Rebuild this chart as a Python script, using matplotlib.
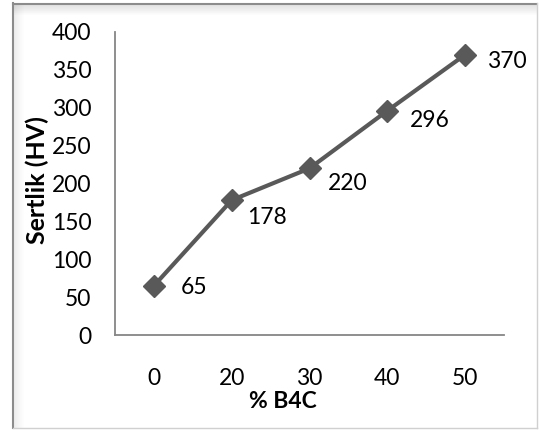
import matplotlib
matplotlib.use("Agg")
import matplotlib.pyplot as plt
from matplotlib.lines import Line2D

plt.rcParams["font.family"] = ["Lato", "DejaVu Sans"]

# B4C oranı (%) ve ölçülen sertlik değerleri
b4c_oran = ["0", "20", "30", "40", "50"]
sertlik = [65, 178, 220, 296, 370]
y_ticks = [0, 50, 100, 150, 200, 250, 300, 350, 400]

# etiketlerin işaretçiye göre kaydırması (piksel)
etiket_kaydir = [(27, -2), (15, -17), (18, -15), (23, -10), (22, -7)]

W, H, DPI = 539, 430, 100
FS = 16.5
fig = plt.figure(figsize=(W / DPI, H / DPI), dpi=DPI)
fig.patch.set_facecolor("white")


def fx(px):
    return px / W


def fy(py):
    return 1 - py / H


# çerçeve ve gölge
for i in range(10):
    a = 0.10 * (1 - i / 10)
    fig.add_artist(Line2D([fx(14), fx(536)], [fy(5 + i), fy(5 + i)],
                          color="black", alpha=a, lw=0.8))
    fig.add_artist(Line2D([fx(14 + i), fx(14 + i)], [fy(4), fy(427)],
                          color="black", alpha=a * 0.6, lw=0.8))
fig.add_artist(Line2D([fx(13), fx(537)], [fy(3.5), fy(3.5)], color="#8c8c8c", lw=1.5))
fig.add_artist(Line2D([fx(13), fx(13)], [fy(3), fy(428)], color="#8c8c8c", lw=1.5))
fig.add_artist(Line2D([fx(537), fx(537)], [fy(3), fy(428)], color="#d0d0d0", lw=1))
fig.add_artist(Line2D([fx(13), fx(537)], [fy(428), fy(428)], color="#d0d0d0", lw=1))

ax = fig.add_axes([fx(115), 1 - 335 / H, 389 / W, 303 / H])
x = list(range(len(b4c_oran)))
ax.plot(x, sertlik, color="#595959", lw=3, marker="D", markersize=11,
        markerfacecolor="#595959", markeredgecolor="#595959", solid_capstyle="round",
        zorder=3)

for xi, yi, (dx, dy) in zip(x, sertlik, etiket_kaydir):
    ax.annotate(str(yi), (xi, yi), xytext=(dx * 0.72, dy * 0.72),
                textcoords="offset points", ha="left", va="center",
                fontsize=FS, color="black")

ax.set_xlim(-0.5, len(b4c_oran) - 0.5)
ax.set_ylim(0, 400)
ax.set_xticks(x)
ax.set_xticklabels(b4c_oran)
ax.set_yticks(y_ticks)
ax.tick_params(axis="both", length=0, labelsize=FS, colors="black")
ax.tick_params(axis="x", pad=24)
ax.tick_params(axis="y", pad=17)

for side in ["top", "right"]:
    ax.spines[side].set_visible(False)
for side in ["left", "bottom"]:
    ax.spines[side].set_color("#868686")
    ax.spines[side].set_linewidth(1.3)

fig.text(fx(37), fy(180), "Sertlik (HV)", rotation=90, ha="center", va="center",
         fontsize=18, fontweight="bold")
fig.text(fx(283), fy(402), "% B4C", ha="center", va="center",
         fontsize=FS, fontweight="bold")

fig.savefig("out.png", dpi=DPI)
